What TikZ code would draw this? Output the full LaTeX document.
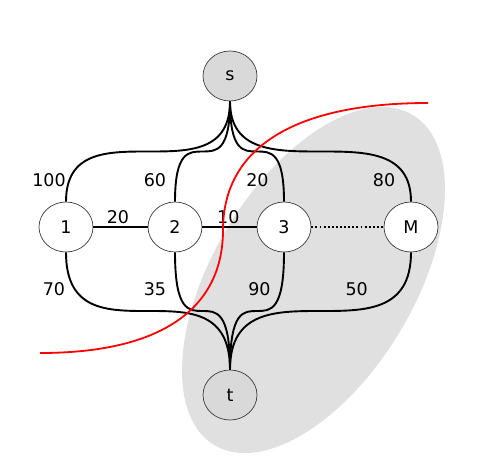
\documentclass[tikz,border=0pt]{standalone}
\usepackage{fontspec}
\setmainfont{DejaVu Sans}
\usetikzlibrary{shapes.geometric}
\definecolor{cutgray}{HTML}{E0E0E0}
\definecolor{nodegray}{HTML}{D9D9D9}
\definecolor{outline}{HTML}{3A3A3A}
\begin{document}
\begin{tikzpicture}[x=1pt,y=-1pt,
  vert/.style={ellipse, draw=outline, line width=0.7pt, fill=white,
    minimum width=54pt, minimum height=50pt, inner sep=0pt,
    font=\fontsize{17.5}{20}\selectfont},
  term/.style={vert, fill=nodegray},
  link/.style={line width=1.9pt, black},
  dotlink/.style={link, dash pattern=on 1.9pt off 2.2pt},
  wlabel/.style={font=\fontsize{17.5}{20}\selectfont, inner sep=0pt},
  cutline/.style={line width=1.8pt, red}]
\useasboundingbox (0,0) rectangle (498,460);
% shaded region
\fill[cutgray, rotate around={59:(313.5,280)}] (313.5,280) ellipse [x radius=192.6, y radius=100.7];
% nodes
\node[term] (s) at (230,76) {s};
\node[vert] (n1) at (66,227) {1};
\node[vert] (n2) at (175,227) {2};
\node[vert] (n3) at (284,227) {3};
\node[vert] (nM) at (411,227) {M};
\node[term] (t) at (230,395) {t};
% edges from s and to t
\foreach \n in {n1,n2,n3,nM}{
  \draw[link] (s.south) .. controls (s.south |- \n.north) and (\n.north |- s.south) .. (\n.north);
  \draw[link] (\n.south) .. controls (\n.south |- t.north) and (t.north |- \n.south) .. (t.north);
}
\draw[link] (n1.east) -- (n2.west);
\draw[link] (n2.east) -- (n3.west);
\draw[dotlink] (n3.east) -- (nM.west);
% labels
\node[wlabel] (l100) at (49,180) {100};
\node[wlabel] (l60) at (155,180) {60};
\node[wlabel] (l20a) at (257.5,180) {20};
\node[wlabel] (l80) at (384,180) {80};
\node[wlabel] (l20b) at (118,217) {20};
\node[wlabel] (l10) at (228.3,217) {10};
\node[wlabel] (l70) at (54,289.5) {70};
\node[wlabel] (l35) at (155,289.5) {35};
\node[wlabel] (l90) at (259.5,289.5) {90};
\node[wlabel] (l50) at (356.7,289.5) {50};
% cut
\coordinate (c0) at (40,353);
\coordinate (c1) at (223,230);
\coordinate (c2) at (428,103);
\draw[cutline] (c0) .. controls (168,353) and (223,304) .. (c1)
  .. controls (223,147.5) and (294.75,103) .. (c2);
\end{tikzpicture}
\end{document}
